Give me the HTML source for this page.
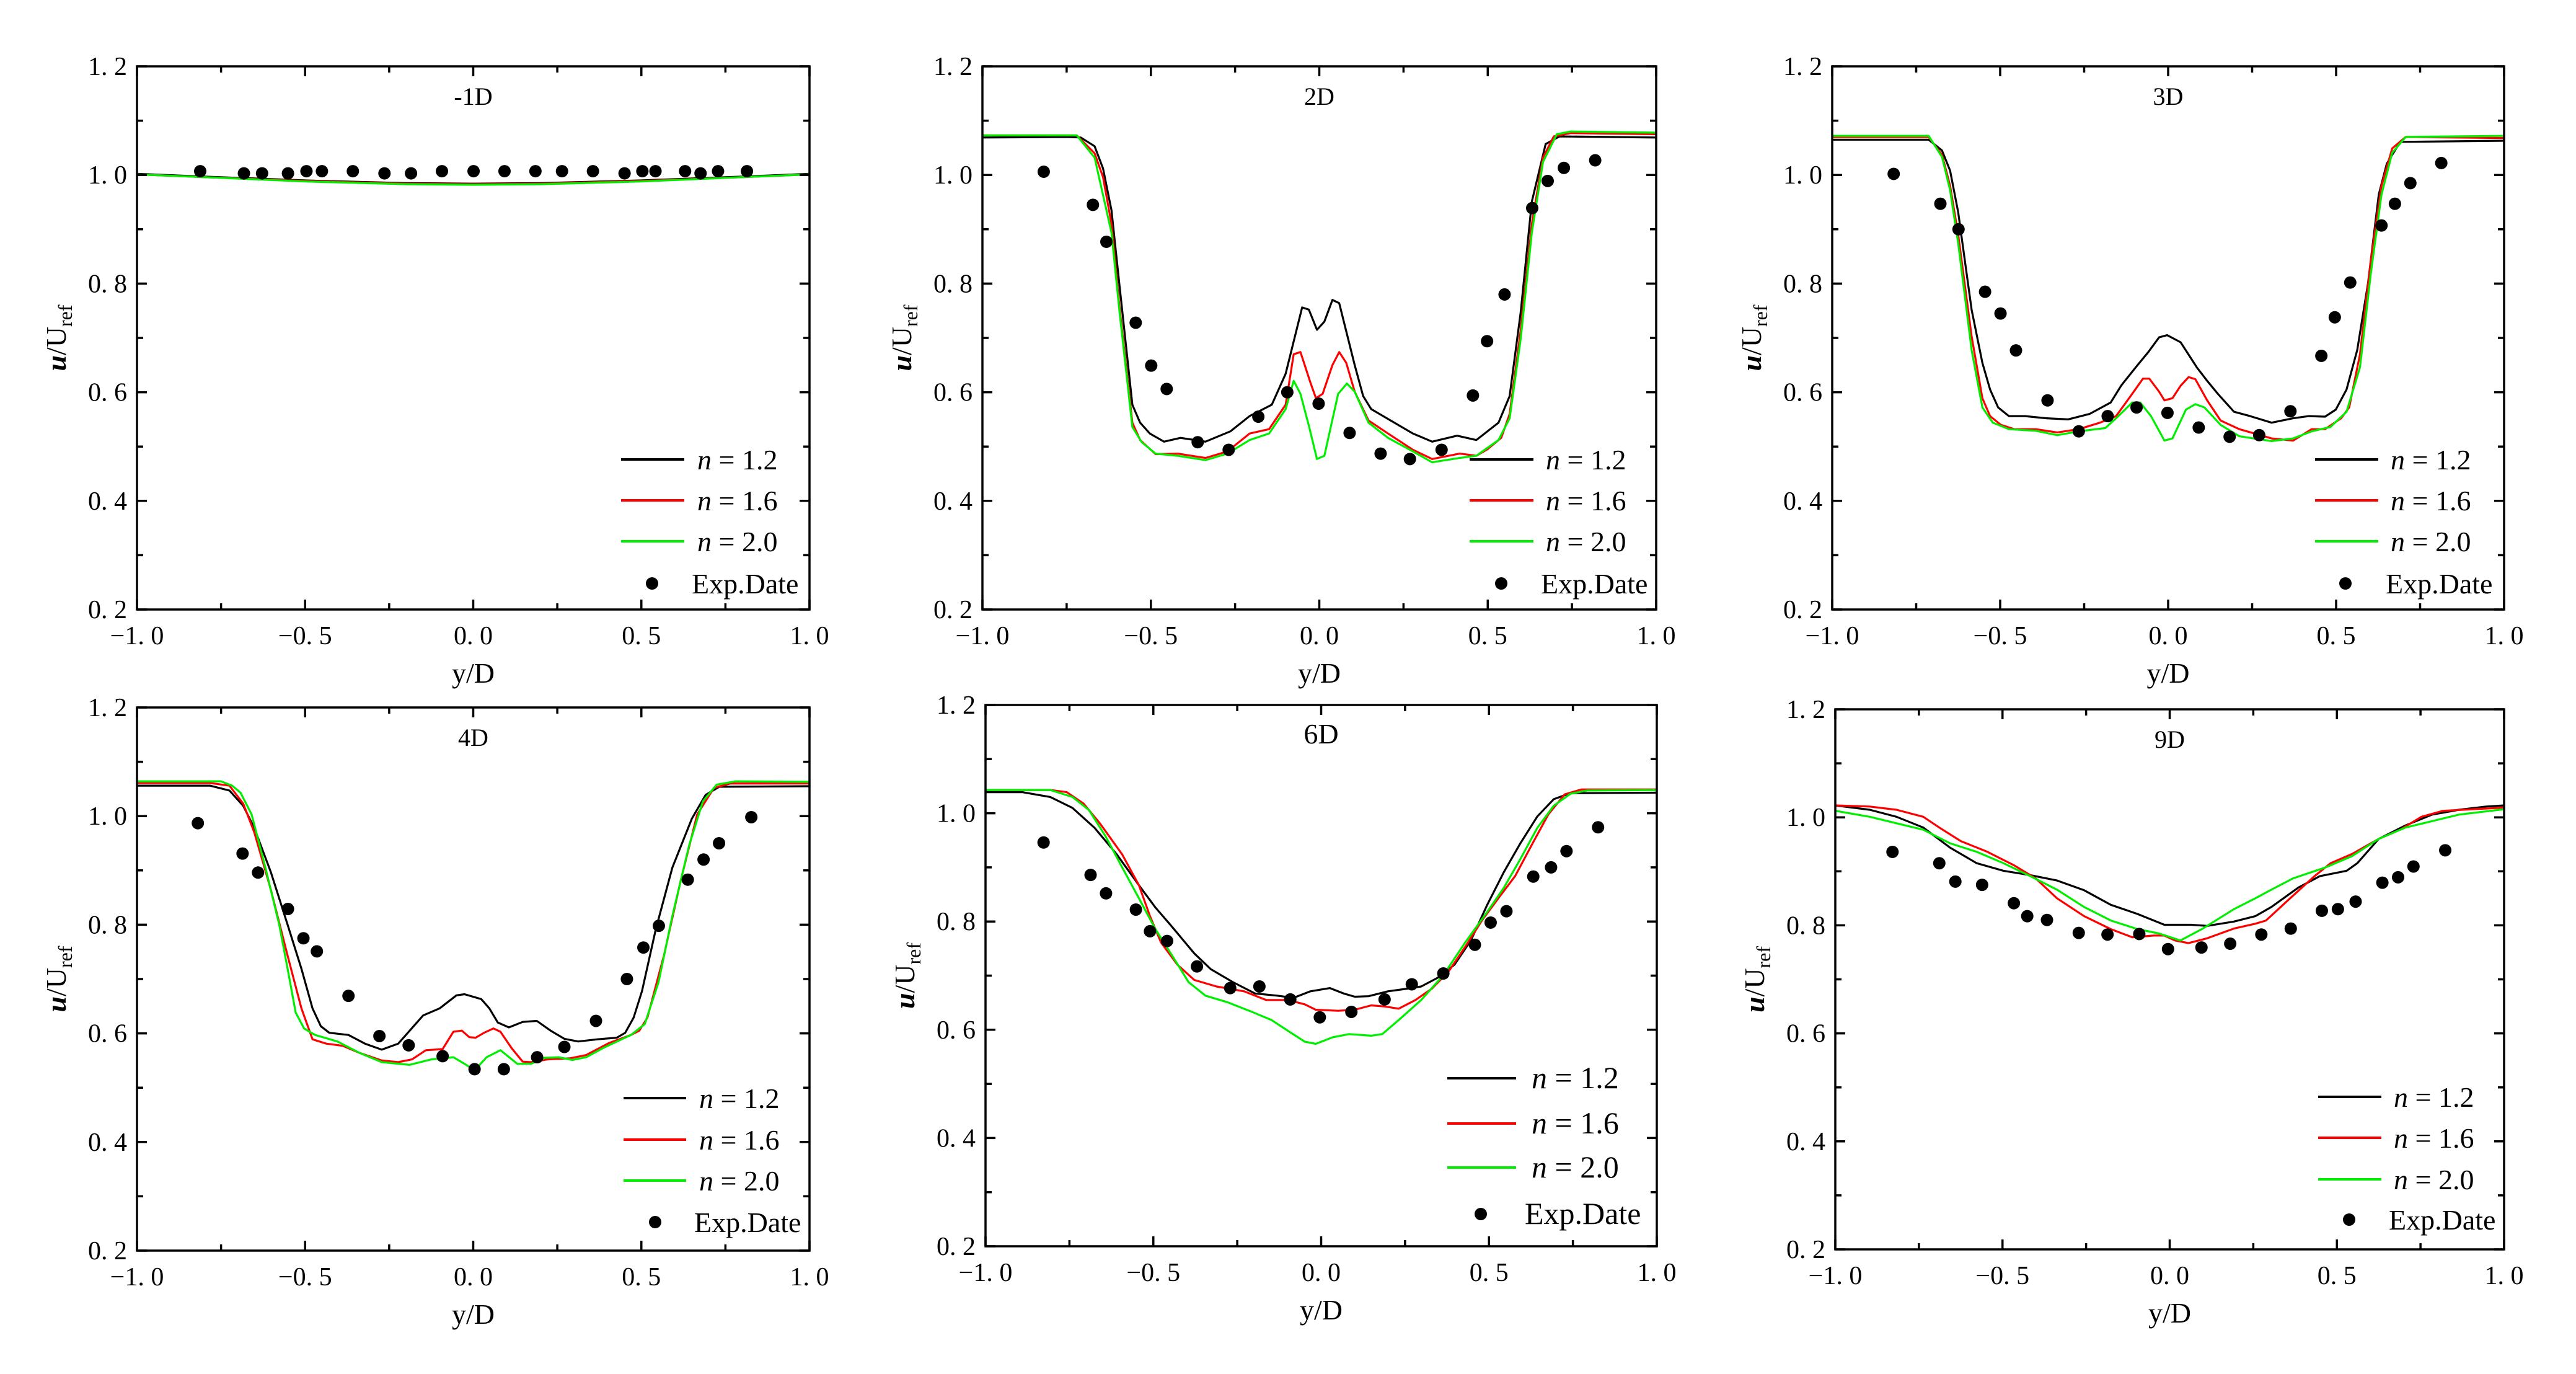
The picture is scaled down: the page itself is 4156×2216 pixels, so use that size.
<!DOCTYPE html>
<html><head><meta charset="utf-8">
<style>
html,body{margin:0;padding:0;background:#fff;}
svg{display:block;}
svg text{font-family:"Liberation Serif","Noto Serif CJK SC",serif;fill:#000;}
</style></head>
<body>
<svg id="fig" width="4156" height="2216" viewBox="0 0 4156 2216" xmlns="http://www.w3.org/2000/svg" font-family="Liberation Serif, serif"></svg>
<script>
// ---- axis ticks ----
const xTicks = [-1, -0.5, 0, 0.5, 1];
const xTickLabels = ['\u22121. 0', '\u22120. 5', '0. 0', '0. 5', '1. 0'];
const yTicks = [0.2, 0.4, 0.6, 0.8, 1.0, 1.2];
const yTickLabels = ['0. 2', '0. 4', '0. 6', '0. 8', '1. 0', '1. 2'];
const panelTitles = ['-1D', '2D', '3D', '4D', '6D', '9D'];
const seriesNames = ['n = 1.2', 'n = 1.6', 'n = 2.0'];

// ---- -1D ----
const p1_black_x = [-1,-0.8,-0.5,-0.2,0,0.2,0.5,0.8,1];
const p1_black_y = [1.002,0.997,0.990,0.985,0.984,0.985,0.990,0.997,1.002];
const p1_red_x = [-1,-0.8,-0.5,-0.2,0,0.2,0.5,0.8,1];
const p1_red_y = [1.001,0.996,0.989,0.984,0.983,0.984,0.989,0.996,1.001];
const p1_green_x = [-1,-0.8,-0.5,-0.2,0,0.2,0.5,0.8,1];
const p1_green_y = [1.001,0.996,0.988,0.983,0.982,0.983,0.988,0.996,1.001];
const p1_exp_x = [-0.812,-0.682,-0.628,-0.551,-0.496,-0.450,-0.358,-0.264,-0.185,-0.093,0.001,0.093,0.185,0.264,0.356,0.450,0.503,0.542,0.630,0.676,0.728,0.814];
const p1_exp_y = [1.007,1.003,1.003,1.003,1.007,1.007,1.007,1.003,1.003,1.007,1.007,1.007,1.007,1.007,1.007,1.003,1.007,1.007,1.007,1.003,1.007,1.007];

// ---- 2D ----
const p2_black_x = [-1,-0.749,-0.708,-0.667,-0.642,-0.617,-0.593,-0.555,-0.532,-0.503,-0.461,-0.412,-0.338,-0.264,-0.207,-0.141,-0.100,-0.051,-0.031,-0.007,0.015,0.039,0.059,0.105,0.130,0.154,0.212,0.278,0.335,0.409,0.466,0.532,0.565,0.598,0.631,0.672,0.713,1];
const p2_black_y = [1.069,1.070,1.069,1.053,1.012,0.935,0.796,0.577,0.544,0.524,0.509,0.516,0.509,0.528,0.556,0.577,0.634,0.756,0.752,0.715,0.730,0.770,0.764,0.650,0.593,0.569,0.548,0.524,0.509,0.520,0.512,0.544,0.593,0.748,0.951,1.057,1.071,1.069];
const p2_red_x = [-1,-0.72,-0.667,-0.642,-0.617,-0.593,-0.555,-0.532,-0.486,-0.42,-0.338,-0.273,-0.207,-0.149,-0.1,-0.076,-0.056,-0.026,-0.01,0.01,0.039,0.059,0.08,0.105,0.146,0.204,0.278,0.335,0.417,0.466,0.499,0.540,0.565,0.598,0.631,0.664,0.696,0.746,1];
const p2_red_y = [1.073,1.073,1.04,0.996,0.91,0.756,0.544,0.512,0.486,0.487,0.479,0.491,0.524,0.532,0.577,0.670,0.674,0.617,0.589,0.597,0.650,0.674,0.654,0.601,0.548,0.524,0.494,0.477,0.487,0.483,0.495,0.516,0.560,0.715,0.910,1.032,1.071,1.077,1.075];
const p2_green_x = [-1,-0.72,-0.667,-0.617,-0.593,-0.555,-0.527,-0.486,-0.42,-0.338,-0.273,-0.207,-0.149,-0.1,-0.076,-0.056,-0.030,-0.007,0.015,0.056,0.082,0.105,0.146,0.204,0.278,0.335,0.417,0.466,0.532,0.565,0.598,0.631,0.664,0.705,0.746,1];
const p2_green_y = [1.073,1.073,1.032,0.894,0.748,0.536,0.508,0.487,0.483,0.475,0.487,0.512,0.524,0.569,0.621,0.597,0.536,0.477,0.483,0.597,0.616,0.601,0.544,0.516,0.491,0.471,0.479,0.483,0.512,0.552,0.699,0.894,1.024,1.075,1.080,1.078];
const p2_exp_x = [-0.818,-0.672,-0.632,-0.545,-0.499,-0.453,-0.361,-0.269,-0.181,-0.095,-0.002,0.090,0.182,0.269,0.363,0.456,0.498,0.550,0.632,0.678,0.726,0.819];
const p2_exp_y = [1.006,0.945,0.877,0.728,0.649,0.606,0.508,0.494,0.555,0.600,0.579,0.525,0.487,0.477,0.494,0.594,0.694,0.780,0.939,0.989,1.013,1.027];

// ---- 3D ----
const p3_black_x = [-1,-0.713,-0.673,-0.649,-0.625,-0.585,-0.553,-0.530,-0.506,-0.474,-0.426,-0.362,-0.298,-0.234,-0.171,-0.139,-0.091,-0.059,-0.027,-0.003,0.037,0.085,0.116,0.148,0.196,0.244,0.308,0.372,0.419,0.467,0.499,0.531,0.563,0.595,0.627,0.651,0.691,1];
const p3_black_y = [1.065,1.065,1.045,1.008,0.931,0.752,0.654,0.605,0.572,0.556,0.556,0.552,0.550,0.560,0.581,0.613,0.650,0.674,0.701,0.705,0.692,0.646,0.621,0.597,0.564,0.556,0.544,0.552,0.556,0.555,0.568,0.605,0.678,0.801,0.964,1.021,1.061,1.063];
const p3_red_x = [-1,-0.713,-0.673,-0.649,-0.625,-0.585,-0.553,-0.530,-0.498,-0.458,-0.394,-0.330,-0.266,-0.203,-0.155,-0.107,-0.075,-0.056,-0.027,-0.011,0.013,0.037,0.061,0.081,0.116,0.156,0.212,0.308,0.372,0.427,0.467,0.515,0.539,0.571,0.603,0.635,0.667,0.707,1];
const p3_red_y = [1.070,1.070,1.037,0.980,0.890,0.703,0.589,0.556,0.540,0.532,0.532,0.526,0.532,0.544,0.556,0.597,0.625,0.625,0.601,0.585,0.589,0.612,0.628,0.624,0.585,0.548,0.532,0.515,0.511,0.532,0.532,0.552,0.572,0.670,0.841,0.980,1.049,1.070,1.068];
const p3_green_x = [-1,-0.713,-0.673,-0.649,-0.625,-0.585,-0.553,-0.522,-0.474,-0.394,-0.330,-0.266,-0.187,-0.155,-0.107,-0.083,-0.051,-0.011,0.013,0.053,0.081,0.108,0.156,0.212,0.308,0.372,0.427,0.483,0.531,0.571,0.603,0.635,0.667,0.707,1];
const p3_green_y = [1.072,1.072,1.033,0.972,0.874,0.678,0.572,0.544,0.532,0.529,0.521,0.528,0.534,0.552,0.581,0.581,0.556,0.511,0.515,0.568,0.578,0.572,0.540,0.519,0.510,0.515,0.528,0.536,0.564,0.646,0.817,0.964,1.041,1.070,1.072];
const p3_exp_x = [-0.817,-0.678,-0.624,-0.545,-0.499,-0.453,-0.359,-0.266,-0.180,-0.094,-0.002,0.091,0.183,0.271,0.364,0.456,0.496,0.542,0.635,0.675,0.721,0.813];
const p3_exp_y = [1.002,0.947,0.900,0.785,0.745,0.677,0.585,0.528,0.556,0.572,0.562,0.535,0.518,0.521,0.565,0.667,0.738,0.802,0.907,0.947,0.985,1.022];

// ---- 4D ----
const p4_black_x = [-1,-0.783,-0.725,-0.684,-0.651,-0.602,-0.552,-0.511,-0.478,-0.453,-0.428,-0.371,-0.322,-0.272,-0.223,-0.149,-0.100,-0.050,-0.026,0.024,0.048,0.073,0.106,0.147,0.189,0.230,0.271,0.312,0.370,0.427,0.452,0.477,0.502,0.543,0.592,0.650,0.691,0.732,1];
const p4_black_y = [1.056,1.056,1.047,1.019,0.978,0.897,0.800,0.719,0.646,0.613,0.601,0.597,0.581,0.570,0.581,0.633,0.646,0.670,0.672,0.663,0.646,0.620,0.611,0.621,0.623,0.605,0.590,0.585,0.589,0.592,0.601,0.629,0.678,0.792,0.905,0.995,1.039,1.054,1.055];
const p4_red_x = [-1,-0.783,-0.725,-0.684,-0.651,-0.602,-0.552,-0.511,-0.478,-0.437,-0.388,-0.338,-0.272,-0.223,-0.182,-0.141,-0.091,-0.059,-0.034,-0.012,0.007,0.032,0.060,0.081,0.114,0.147,0.172,0.221,0.287,0.336,0.403,0.469,0.494,0.518,0.567,0.617,0.666,0.716,0.765,1];
const p4_red_y = [1.061,1.061,1.056,1.023,0.970,0.865,0.743,0.646,0.589,0.581,0.577,0.564,0.550,0.547,0.552,0.569,0.571,0.603,0.605,0.593,0.592,0.601,0.609,0.603,0.573,0.548,0.547,0.552,0.554,0.560,0.582,0.597,0.605,0.629,0.743,0.881,1.003,1.052,1.060,1.060];
const p4_green_x = [-1,-0.750,-0.717,-0.692,-0.659,-0.618,-0.577,-0.552,-0.528,-0.503,-0.470,-0.404,-0.338,-0.272,-0.190,-0.124,-0.059,-0.026,0.004,0.040,0.081,0.131,0.172,0.213,0.254,0.295,0.336,0.386,0.469,0.510,0.551,0.592,0.642,0.683,0.724,0.781,1];
const p4_green_y = [1.064,1.064,1.056,1.043,1.003,0.905,0.800,0.719,0.638,0.609,0.597,0.585,0.564,0.547,0.542,0.552,0.556,0.544,0.532,0.556,0.569,0.544,0.544,0.555,0.556,0.551,0.556,0.573,0.597,0.617,0.694,0.816,0.946,1.027,1.058,1.064,1.063];
const p4_exp_x = [-0.819,-0.686,-0.640,-0.551,-0.505,-0.465,-0.371,-0.279,-0.192,-0.091,0.004,0.091,0.190,0.271,0.365,0.457,0.506,0.552,0.638,0.685,0.731,0.827];
const p4_exp_y = [0.987,0.931,0.896,0.829,0.775,0.751,0.669,0.595,0.578,0.558,0.534,0.534,0.556,0.575,0.623,0.700,0.758,0.798,0.883,0.920,0.950,0.998];

// ---- 6D ----
const p5_black_x = [-1,-0.890,-0.807,-0.741,-0.675,-0.609,-0.543,-0.494,-0.444,-0.378,-0.329,-0.263,-0.197,-0.131,-0.082,-0.032,0.026,0.067,0.100,0.141,0.199,0.257,0.298,0.347,0.397,0.446,0.495,0.545,0.594,0.644,0.693,0.743,1];
const p5_black_y = [1.039,1.039,1.030,1.010,0.973,0.924,0.867,0.826,0.790,0.741,0.712,0.688,0.667,0.663,0.659,0.671,0.677,0.667,0.661,0.662,0.671,0.676,0.680,0.696,0.720,0.765,0.831,0.892,0.945,0.994,1.026,1.037,1.038];
const p5_red_x = [-1,-0.807,-0.758,-0.708,-0.659,-0.593,-0.543,-0.510,-0.477,-0.428,-0.378,-0.312,-0.230,-0.164,-0.099,-0.049,-0.016,0.050,0.100,0.149,0.190,0.231,0.281,0.330,0.380,0.429,0.479,0.528,0.578,0.627,0.677,0.726,0.776,1];
const p5_red_y = [1.043,1.043,1.039,1.018,0.981,0.924,0.867,0.810,0.761,0.720,0.692,0.680,0.671,0.655,0.655,0.647,0.637,0.635,0.637,0.645,0.643,0.639,0.655,0.676,0.708,0.753,0.802,0.843,0.884,0.941,0.998,1.035,1.044,1.044];
const p5_green_x = [-1,-0.807,-0.741,-0.692,-0.642,-0.593,-0.543,-0.494,-0.444,-0.395,-0.345,-0.280,-0.214,-0.148,-0.099,-0.049,-0.016,0.034,0.083,0.149,0.182,0.231,0.298,0.363,0.429,0.495,0.545,0.594,0.644,0.693,0.743,0.792,1];
const p5_green_y = [1.043,1.043,1.030,1.006,0.957,0.900,0.843,0.786,0.737,0.688,0.663,0.651,0.635,0.618,0.598,0.578,0.574,0.586,0.592,0.589,0.592,0.618,0.655,0.700,0.761,0.818,0.863,0.916,0.973,1.014,1.036,1.042,1.043];
const p5_exp_x = [-0.827,-0.687,-0.641,-0.552,-0.510,-0.459,-0.370,-0.271,-0.184,-0.092,-0.004,0.090,0.189,0.270,0.364,0.458,0.505,0.552,0.632,0.685,0.731,0.825];
const p5_exp_y = [0.946,0.886,0.852,0.822,0.782,0.764,0.717,0.677,0.680,0.656,0.623,0.633,0.656,0.684,0.704,0.757,0.798,0.819,0.883,0.900,0.930,0.974];

// ---- 9D ----
const p6_black_x = [-1,-0.897,-0.817,-0.737,-0.657,-0.577,-0.497,-0.417,-0.337,-0.256,-0.176,-0.096,-0.016,0.064,0.112,0.192,0.256,0.304,0.385,0.449,0.529,0.561,0.625,0.705,0.785,0.865,0.946,1];
const p6_black_y = [1.022,1.014,1.001,0.981,0.944,0.915,0.901,0.893,0.883,0.865,0.838,0.821,0.801,0.801,0.799,0.807,0.817,0.834,0.870,0.891,0.901,0.915,0.960,0.985,1.005,1.014,1.020,1.022];
const p6_red_x = [-1,-0.897,-0.817,-0.737,-0.689,-0.625,-0.545,-0.465,-0.401,-0.337,-0.256,-0.176,-0.112,-0.048,-0.016,0.016,0.056,0.112,0.192,0.256,0.288,0.353,0.433,0.481,0.545,0.625,0.689,0.753,0.817,1];
const p6_red_y = [1.022,1.020,1.014,1.001,0.981,0.956,0.936,0.911,0.887,0.850,0.817,0.793,0.778,0.781,0.781,0.772,0.767,0.776,0.794,0.803,0.809,0.846,0.891,0.915,0.932,0.960,0.977,1.001,1.012,1.018];
const p6_green_x = [-1,-0.897,-0.817,-0.737,-0.657,-0.577,-0.497,-0.417,-0.337,-0.256,-0.176,-0.096,-0.032,0.032,0.096,0.192,0.256,0.304,0.369,0.465,0.545,0.625,0.705,0.785,0.865,1];
const p6_green_y = [1.012,1.001,0.989,0.977,0.952,0.936,0.915,0.891,0.866,0.834,0.809,0.793,0.785,0.772,0.793,0.830,0.850,0.866,0.887,0.907,0.928,0.960,0.981,0.993,1.005,1.015];
const p6_exp_x = [-0.829,-0.689,-0.641,-0.561,-0.466,-0.426,-0.367,-0.272,-0.186,-0.091,-0.005,0.095,0.181,0.274,0.362,0.455,0.503,0.556,0.636,0.683,0.729,0.824];
const p6_exp_y = [0.936,0.915,0.881,0.875,0.841,0.817,0.810,0.786,0.783,0.784,0.756,0.759,0.766,0.783,0.794,0.827,0.830,0.844,0.879,0.889,0.909,0.939];

// ---- layout ----
const panels = [
  {L:221,T:107,R:1306,B:983, lines:[[p1_black_x,p1_black_y],[p1_red_x,p1_red_y],[p1_green_x,p1_green_y]], ex:p1_exp_x, ey:p1_exp_y, lg:{l0:304,l1:202,t:181,d:254,dt:190,rows:[242,176,110,42],fs:46}, ts:40},
  {L:1585,T:107,R:2672,B:983, lines:[[p2_black_x,p2_black_y],[p2_red_x,p2_red_y],[p2_green_x,p2_green_y]], ex:p2_exp_x, ey:p2_exp_y, lg:{l0:301,l1:198,t:178,d:250,dt:186,rows:[242,176,110,42],fs:46}, ts:40},
  {L:2956,T:107,R:4040,B:983, lines:[[p3_black_x,p3_black_y],[p3_red_x,p3_red_y],[p3_green_x,p3_green_y]], ex:p3_exp_x, ey:p3_exp_y, lg:{l0:305,l1:203,t:183,d:256,dt:191,rows:[242,176,110,42],fs:46}, ts:40},
  {L:221,T:1141,R:1306,B:2017, lines:[[p4_black_x,p4_black_y],[p4_red_x,p4_red_y],[p4_green_x,p4_green_y]], ex:p4_exp_x, ey:p4_exp_y, lg:{l0:300,l1:199,t:178,d:249,dt:186,rows:[246,179,113,46],fs:46}, ts:40},
  {L:1590,T:1137,R:2673,B:2010, lines:[[p5_black_x,p5_black_y],[p5_red_x,p5_red_y],[p5_green_x,p5_green_y]], ex:p5_exp_x, ey:p5_exp_y, lg:{l0:338,l1:227,t:202,d:284,dt:213,rows:[271,198,127,52],fs:50}, ts:46},
  {L:2961,T:1144,R:4040,B:2015, lines:[[p6_black_x,p6_black_y],[p6_red_x,p6_red_y],[p6_green_x,p6_green_y]], ex:p6_exp_x, ey:p6_exp_y, lg:{l0:300,l1:198,t:178,d:250,dt:186,rows:[246,180,113,48],fs:46}, ts:40}
];
const colors = ['#000000','#ff0000','#00ee00'];
const FONT = '"Liberation Serif", "Noto Serif CJK SC", serif';
const NS = 'http://www.w3.org/2000/svg';
const svg = document.getElementById('fig');
function mk(tag, attrs, parent){
  const e = document.createElementNS(NS, tag);
  for (const k in attrs) e.setAttribute(k, attrs[k]);
  if (tag === 'text') e.setAttribute('font-family', FONT);
  (parent||svg).appendChild(e);
  return e;
}

panels.forEach((p, pi) => {
  const g = mk('g', {});
  
  
  const sx = v => p.L + (v + 1) / 2 * (p.R - p.L);
  const sy = v => p.B - (v - 0.2) / 1.0 * (p.B - p.T);

  p.lines.forEach((s, si) => {
    const n = Math.min(s[0].length, s[1].length);
    let d = '';
    for (let i = 0; i < n; i++) d += (i ? 'L' : 'M') + sx(s[0][i]).toFixed(1) + ' ' + sy(s[1][i]).toFixed(1);
    const path = mk('path', {d:d, fill:'none', stroke:colors[si], 'stroke-width':3.2, 'stroke-linejoin':'round'}, g);
    
    
  });
  const n = Math.min(p.ex.length, p.ey.length);
  for (let i = 0; i < n; i++) {
    const c = mk('circle', {cx:sx(p.ex[i]), cy:sy(p.ey[i]), r:10, fill:'#000'}, g);
    
    
  }
  const fr = mk('rect', {x:p.L, y:p.T, width:p.R-p.L, height:p.B-p.T, fill:'none', stroke:'#000', 'stroke-width':3.5}, g);
  
  
  let td = '';
  for (let v = -1; v <= 1.0001; v += 0.25) {
    const x = sx(v); const len = (Math.abs(v*2 - Math.round(v*2)) < 1e-6) ? 16 : 10;
    td += `M${x} ${p.B}V${p.B-len}M${x} ${p.T}V${p.T+len}`;
  }
  for (let v = 0.2; v <= 1.2001; v += 0.1) {
    const y = sy(v); const len = (Math.abs(v*5 - Math.round(v*5)) < 1e-6) ? 16 : 10;
    td += `M${p.L} ${y}H${p.L+len}M${p.R} ${y}H${p.R-len}`;
  }
  const tk = mk('path', {d:td, stroke:'#000', 'stroke-width':3.5, fill:'none'}, g);
  
  
  xTicks.forEach((v, i) => {
    const t = mk('text', {x:sx(v), y:p.B+56, 'text-anchor':'middle', 'font-size':42}, g);
    t.textContent = xTickLabels[i];
    
    
  });
  yTicks.forEach((v, i) => {
    const t = mk('text', {x:p.L-16, y:sy(v)+14, 'text-anchor':'end', 'font-size':42}, g);
    t.textContent = yTickLabels[i];
    
    
  });
  const xt = mk('text', {x:(p.L+p.R)/2, y:p.B+118, 'text-anchor':'middle', 'font-size':46}, g);
  xt.textContent = 'y/D';
  
  
  const cy = (p.T+p.B)/2;
  const yt = mk('text', {x:0, y:0, 'text-anchor':'middle', 'font-size':46, transform:`translate(${p.L-115},${cy}) rotate(-90)`}, g);
  yt.innerHTML = '<tspan font-style="italic" font-weight="bold">u</tspan>/U<tspan font-size="32" dy="10">ref</tspan>';
  
  
  const tt = mk('text', {x:(p.L+p.R)/2, y:p.T+62, 'text-anchor':'middle', 'font-size':p.ts}, g);
  tt.textContent = panelTitles[pi];
  
  
  const lg = p.lg;
  const leg = mk('g', {}, g);
  
  
  for (let si = 0; si < 3; si++) {
    const yy = p.B - lg.rows[si];
    const ln = mk('line', {x1:p.R-lg.l0, x2:p.R-lg.l1, y1:yy, y2:yy, stroke:colors[si], 'stroke-width':4}, leg);
    
    
    const t = mk('text', {x:p.R-lg.t, y:yy+16, 'font-size':lg.fs}, leg);
    t.innerHTML = '<tspan font-style="italic">n</tspan> = ' + seriesNames[si].split('= ')[1];
    
    
  }
  const yy = p.B - lg.rows[3];
  const dc = mk('circle', {cx:p.R-lg.d, cy:yy, r:10, fill:'#000'}, leg);
  
  
  const et = mk('text', {x:p.R-lg.dt, y:yy+16, 'font-size':lg.fs}, leg);
  et.textContent = 'Exp.Date';
  
  
});
</script>
</body></html>
